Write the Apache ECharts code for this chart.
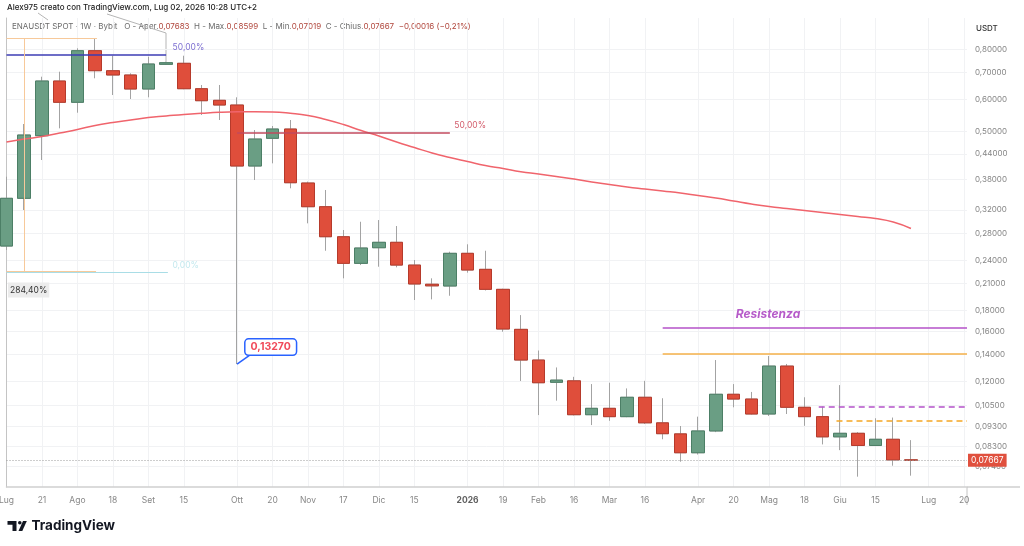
<!DOCTYPE html>
<html>
<head>
<meta charset="utf-8">
<title>ENAUSDT 1W</title>
<script src="https://cdn.jsdelivr.net/npm/echarts@6/dist/echarts.min.js"></script>
<style>
    html, body { margin: 0; padding: 0; background: #fff; }
    #chart { width: 1024px; height: 546px; }
</style>
</head>
<body>
<div id="chart"></div>
<script>
// settimane: indice 0 = lun 7 lug 2025, una candela a settimana
var weeks = [0, 1, 2, 3, 4, 5, 6, 7, 8, 9, 10, 11, 12, 13, 14, 15, 16, 17, 18, 19, 20, 21, 22, 23, 24, 25,
    26, 27, 28, 29, 30, 31, 32, 33, 34, 35, 36, 37, 38, 39, 40, 41, 42, 43, 44, 45, 46, 47, 48, 49, 50, 51];

var openV = [0.2603, 0.3418, 0.4886, 0.6676, 0.5912, 0.7936, 0.7080, 0.6909, 0.6378, 0.7343, 0.7386, 0.6389, 0.5980,
    0.5821, 0.4110, 0.4814, 0.5076, 0.3730, 0.3258, 0.2745, 0.2358, 0.2578, 0.2659, 0.2335, 0.2093, 0.2072,
    0.2497, 0.2279, 0.2033, 0.1618, 0.1358, 0.1196, 0.1206, 0.0994, 0.1031, 0.0983, 0.1098, 0.0949, 0.0891,
    0.0800, 0.0906, 0.1117, 0.1087, 0.0998, 0.1312, 0.1037, 0.0983, 0.0876, 0.0894, 0.0834, 0.0864, 0.07683];
var highV = [0.3866, 0.5223, 0.6842, 0.7040, 0.8046, 0.8518, 0.7713, 0.6976, 0.7669, 0.7448, 0.7713, 0.6526, 0.6526,
    0.6083, 0.5047, 0.5164, 0.5344, 0.3760, 0.3584, 0.2852, 0.2990, 0.3019, 0.2918, 0.2403, 0.2165, 0.2520,
    0.2629, 0.2534, 0.2040, 0.1755, 0.1434, 0.1302, 0.1234, 0.1184, 0.1193, 0.1155, 0.1206, 0.1092, 0.0932,
    0.0983, 0.1358, 0.1184, 0.1132, 0.1390, 0.1328, 0.1098, 0.1041, 0.1177, 0.0900, 0.0974, 0.0978, 0.08599];
var lowV = [0.2545, 0.3197, 0.4253, 0.5096, 0.5571, 0.6780, 0.6163, 0.6024, 0.6083, 0.7326, 0.6370, 0.5499, 0.5344,
    0.1327, 0.3794, 0.4173, 0.3619, 0.2963, 0.2534, 0.2165, 0.2335, 0.2313, 0.2305, 0.1913, 0.1920, 0.1960,
    0.2236, 0.2020, 0.1596, 0.1205, 0.0992, 0.1077, 0.0990, 0.0937, 0.0960, 0.0980, 0.0943, 0.0864, 0.0760,
    0.0792, 0.0900, 0.1037, 0.0995, 0.0987, 0.0998, 0.0933, 0.0839, 0.0812, 0.0698, 0.0831, 0.0743, 0.07019];
var closeV = [0.3418, 0.4905, 0.6676, 0.5912, 0.7936, 0.7080, 0.6909, 0.6378, 0.7356, 0.7411, 0.6389, 0.5966, 0.5821,
    0.4110, 0.4794, 0.5076, 0.3736, 0.3258, 0.2745, 0.2358, 0.2574, 0.2659, 0.2335, 0.2096, 0.2074, 0.2497,
    0.2270, 0.2033, 0.1621, 0.1358, 0.1193, 0.1211, 0.0994, 0.1031, 0.0983, 0.1098, 0.0949, 0.0892, 0.0800,
    0.0906, 0.1117, 0.1087, 0.0998, 0.1312, 0.1037, 0.0983, 0.0876, 0.0894, 0.0834, 0.0864, 0.0768, 0.07667];

// media mobile (linea rossa)
var maV = [0.4713, 0.4794, 0.4863, 0.4961, 0.5062, 0.5179, 0.5268, 0.5344, 0.5421, 0.5467, 0.5514, 0.5552, 0.5584,
    0.5600, 0.5603, 0.5594, 0.5552, 0.5483, 0.5359, 0.5208, 0.5033, 0.4877, 0.4713, 0.4568, 0.4426, 0.4314,
    0.4216, 0.4121, 0.4052, 0.3978, 0.3926, 0.3871, 0.3816, 0.3751, 0.3698, 0.3646, 0.3604, 0.3563, 0.3523,
    0.3473, 0.3424, 0.3366, 0.3309, 0.3261, 0.3224, 0.3188, 0.3152, 0.3116, 0.3080, 0.3045, 0.2985, 0.2877];

// etichette asse x e asse prezzi
var tickWeeks = [0, 2, 4, 6, 8, 10, 13, 15, 17, 19, 21, 23, 26, 28, 30, 32, 34, 36, 39, 41, 43, 45, 47, 49, 52, 54];
var tickLabels = ['Lug', '21', 'Ago', '18', 'Set', '15', 'Ott', '20', 'Nov', '17', 'Dic', '15', '2026', '19',
    'Feb', '16', 'Mar', '16', 'Apr', '20', 'Mag', '18', 'Giu', '15', 'Lug', '20'];
var priceTicks = [0.8, 0.7, 0.6, 0.5, 0.44, 0.38, 0.32, 0.28, 0.24, 0.21, 0.18, 0.16, 0.14, 0.12, 0.105, 0.093, 0.083, 0.074];

var lastPrice = 0.07667;
var xMax = 54.16;

function fmtPrice(v) {
    return v.toFixed(5).replace('.', ',');
}

function candleRows(bodyOnly) {
    return weeks.map(function (w, i) {
        var o = openV[i], c = closeV[i];
        if (bodyOnly) {
            return [w, o, c, Math.min(o, c), Math.max(o, c)];
        }
        return [w, o, c, lowV[i], highV[i]];
    });
}

function seg(x0, y0, x1, y1, style) {
    return [{ coord: [x0, y0], lineStyle: style }, { coord: [x1, y1] }];
}

function note(x, y, text, label) {
    return {
        coord: [x, y],
        symbol: 'circle',
        symbolSize: 1,
        itemStyle: { color: 'transparent' },
        label: Object.assign({ show: true, formatter: text, fontSize: 8.5, fontFamily: 'Inter' }, label)
    };
}

function initChart() {
    var myChart = echarts.init(document.getElementById('chart'), null, { renderer: 'canvas' });

    var option = {
        animation: false,
        textStyle: { fontFamily: 'Inter, sans-serif' },
        grid: { left: 6.5, right: 57, top: 18, bottom: 59, containLabel: false, outerBoundsMode: 'none' },
        xAxis: {
            type: 'value',
            min: 0,
            max: xMax,
            axisLine: { show: true, onZero: false, lineStyle: { color: '#cfcfcf', width: 1.5 } },
            axisTick: { show: false, customValues: tickWeeks },
            splitLine: { show: true, lineStyle: { color: '#f1f2f4', width: 1 } },
            axisLabel: {
                customValues: tickWeeks,
                margin: 9,
                color: '#878787',
                fontSize: 8.5,
                formatter: function (v) {
                    var t = tickLabels[tickWeeks.indexOf(Math.round(v))] || '';
                    return t === '2026' ? '{b|2026}' : t;
                },
                rich: { b: { fontWeight: 'bold', color: '#606060', fontSize: 8.5 } }
            }
        },
        yAxis: {
            type: 'log',
            logBase: 10,
            position: 'right',
            min: 0.0658,
            max: 0.9565,
            axisLine: { show: true, lineStyle: { color: '#c4c4c4', width: 1 } },
            axisTick: { show: false, customValues: priceTicks },
            splitLine: { show: true, lineStyle: { color: '#f1f2f4', width: 1 } },
            axisLabel: {
                customValues: priceTicks,
                margin: 8,
                color: '#858585',
                fontSize: 8,
                formatter: function (v) { return fmtPrice(v); }
            }
        },
        series: [
            {
                // stoppini grigi
                name: 'wick',
                type: 'candlestick',
                barWidth: 13,
                silent: true,
                itemStyle: {
                    color: 'transparent', color0: 'transparent',
                    borderColor: '#a3a3a3', borderColor0: '#a3a3a3', borderColorDoji: '#a3a3a3',
                    borderWidth: 1
                },
                data: candleRows(false)
            },
            {
                name: 'MA',
                type: 'line',
                smooth: true,
                showSymbol: false,
                silent: true,
                lineStyle: { color: '#f0646c', width: 1.5 },
                data: weeks.map(function (w, i) { return [w, maV[i]]; }),
                markLine: {
                    silent: true,
                    symbol: ['none', 'none'],
                    label: { show: false },
                    data: [
                        seg(0, 0.7744, 9.0, 0.7744, { color: '#3c3cb4', width: 1.5, type: 'solid' }),
                        seg(13, 0.4961, 25.0, 0.4961, { color: '#c24a5e', width: 1.5, type: 'solid' }),
                        seg(0, 0.2245, 9.1, 0.2245, { color: '#a9dde6', width: 1, type: 'solid' }),
                        seg(0, 0.8533, 5.1, 0.8533, { color: '#f7c99a', width: 1, type: 'solid' }),
                        seg(0, 0.2250, 5.05, 0.2250, { color: '#f7c99a', width: 1, type: 'solid' }),
                        seg(1.0, 0.2245, 1.0, 0.8533, { color: '#f7c99a', width: 1, type: 'solid' }),
                        seg(37, 0.1630, xMax, 0.1630, { color: '#b452c9', width: 1.5, type: 'solid' }),
                        seg(37, 0.1405, xMax, 0.1405, { color: '#f5b04a', width: 1.5, type: 'solid' }),
                        seg(45.8, 0.1041, xMax, 0.1041, { color: '#b452c9', width: 1.5, type: [6, 4] }),
                        seg(46.8, 0.0959, xMax, 0.0959, { color: '#f5a623', width: 1.5, type: [6, 4] }),
                        seg(13, 0.1327, 13.7, 0.1395, { color: '#2962ff', width: 1.5, type: 'solid' }),
                        [
                            {
                                coord: [0, lastPrice],
                                lineStyle: { color: '#9a9a9a', width: 1, type: [1, 2] },
                                label: {
                                    show: true, position: 'end', distance: 1,
                                    formatter: fmtPrice(lastPrice),
                                    color: '#fff', backgroundColor: '#e0503e',
                                    padding: [2, 3], fontSize: 8.5, fontFamily: 'Inter'
                                }
                            },
                            { coord: [xMax, lastPrice] }
                        ]
                    ]
                },
                markPoint: {
                    silent: true,
                    data: [
                        note(9.0, 0.7744, '50,00%', { position: 'right', distance: 6, offset: [0, -8], color: '#7d6fd1' }),
                        note(25.0, 0.4961, '50,00%', { position: 'right', distance: 4, offset: [0, -8], color: '#d35d6c' }),
                        note(9.1, 0.2245, '0,00%', { position: 'right', distance: 4, offset: [0, -7], color: '#c3e8ee' }),
                        note(0, 0.2245, '284,40%', {
                            position: 'right', distance: 1, offset: [0, 18],
                            color: '#333', backgroundColor: '#ececec', padding: [3, 2]
                        }),
                        note(42.94, 0.1765, 'Resistenza', {
                            position: 'inside', color: '#b65bc9', fontStyle: 'italic',
                            fontWeight: 'bold', fontSize: 12
                        }),
                        note(13, 0.1327, '0,13270', {
                            position: 'right', distance: 8, offset: [0, -17],
                            color: '#f04a5a', fontWeight: 'bold', fontSize: 10.5,
                            backgroundColor: '#fff', borderColor: '#2962ff', borderWidth: 1.5,
                            borderRadius: 3, padding: [2, 5]
                        })
                    ]
                }
            },
            {
                // corpi colorati
                name: 'ENAUSDT',
                type: 'candlestick',
                barWidth: 13,
                itemStyle: {
                    color: '#6a9e84', color0: '#df4e3b',
                    borderColor: '#4c7f66', borderColor0: '#b63a2b', borderColorDoji: '#b63a2b',
                    borderWidth: 1
                },
                data: candleRows(true)
            }
        ],
        graphic: [
            {
                type: 'text', left: 7, top: 4,
                style: {
                    text: 'Alex975 creato con TradingView.com, Lug 02, 2026 10:28 UTC+2',
                    fill: '#222', fontSize: 8, fontWeight: 500, fontFamily: 'Inter'
                }
            },
            {
                type: 'text', left: 12, top: 23,
                style: {
                    text: '{g|ENAUSDT SPOT · 1W · Bybit   O - Aper.}{r|0,07683}{g|  H - Max.}{r|0,08599}'
                        + '{g|  L - Min.}{r|0,07019}{g|  C - Chius.}{r|0,07667}{r|  −0,00016 (−0,21%)}',
                    fontFamily: 'Inter',
                    rich: {
                        g: { fill: '#6b6b6b', fontSize: 8, fontFamily: 'Inter' },
                        r: { fill: '#b0463c', fontSize: 8, fontFamily: 'Inter' }
                    }
                }
            },
            {
                type: 'text', left: 976, top: 25,
                style: { text: 'USDT', fill: '#333', fontSize: 8, fontWeight: 500, fontFamily: 'Inter' }
            },
            {
                type: 'line', silent: true,
                shape: { x1: 967, y1: 487, x2: 1020, y2: 487 },
                style: { stroke: '#cfcfcf', lineWidth: 1.5 }
            },
            {
                type: 'line', silent: true,
                shape: { x1: 967, y1: 487, x2: 967, y2: 505 },
                style: { stroke: '#c4c4c4', lineWidth: 1 }
            },
            {
                type: 'polyline', silent: true,
                shape: { points: [[107, 14], [166, 33], [166, 63]] },
                style: { stroke: '#b5b5b5', lineWidth: 1, fill: null }
            },
            {
                type: 'polyline', silent: true,
                shape: { points: [[38, 13], [48, 20]] },
                style: { stroke: '#b5b5b5', lineWidth: 1, fill: null }
            },
            // logo TradingView
            {
                type: 'polygon', silent: true,
                shape: { points: [[7.5, 521], [16.5, 521], [16.5, 531], [12.5, 531], [12.5, 524.8], [7.5, 524.8]] },
                style: { fill: '#131722' }
            },
            {
                type: 'circle', silent: true,
                shape: { cx: 19.8, cy: 522.7, r: 1.8 },
                style: { fill: '#131722' }
            },
            {
                type: 'polygon', silent: true,
                shape: { points: [[18.5, 531], [23, 521], [26.8, 521], [22.3, 531]] },
                style: { fill: '#131722' }
            },
            {
                type: 'text', left: 31.5, top: 519,
                style: { text: 'TradingView', fill: '#131722', fontSize: 13.5, fontWeight: 'bold', fontFamily: 'Inter' }
            }
        ]
    };

    myChart.setOption(option);
}

window.addEventListener('load', initChart);
</script>
</body>
</html>
